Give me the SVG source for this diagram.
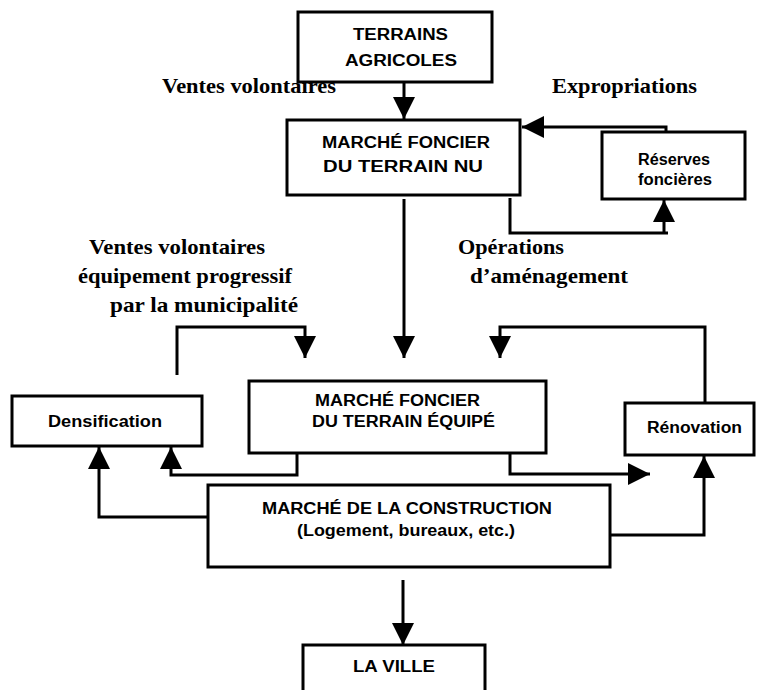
<svg xmlns="http://www.w3.org/2000/svg" width="760" height="690" viewBox="0 0 760 690">
<style>
.box{fill:#fff;stroke:#000;stroke-width:3}
.bt{font-family:"Liberation Sans",Arial,sans-serif;font-weight:bold;font-size:16px;fill:#000}
.lb{font-family:"Liberation Serif","Times New Roman",serif;font-weight:bold;font-size:21px;fill:#000}
.c{fill:none;stroke:#000;stroke-width:3}
</style>
<defs>
<marker id="ah" markerUnits="userSpaceOnUse" markerWidth="24" markerHeight="24" refX="22" refY="11" orient="auto">
<path d="M0,0 L22,11 L0,22 Z" fill="#000"/>
</marker>
</defs>
<rect width="760" height="690" fill="#fff"/>
<g id="connectors">
<path class="c" d="M404,82 L404,119" marker-end="url(#ah)"/>
<path class="c" d="M666,132 L666,127 L522,127" marker-end="url(#ah)"/>
<path class="c" d="M510,198 L510,233 L668,233"/>
<path class="c" d="M664,233 L664,200" marker-end="url(#ah)"/>
<path class="c" d="M404,199 L404,358" marker-end="url(#ah)"/>
<path class="c" d="M177,375 L177,327 L305,327 L305,358" marker-end="url(#ah)"/>
<path class="c" d="M705,403 L705,327 L500,327 L500,358" marker-end="url(#ah)"/>
<path class="c" d="M297,453 L297,475 L171,475 L171,447" marker-end="url(#ah)"/>
<path class="c" d="M208,517 L99,517 L99,447" marker-end="url(#ah)"/>
<path class="c" d="M510,453 L510,474 L650,474" marker-end="url(#ah)"/>
<path class="c" d="M610,535 L704,535 L704,456" marker-end="url(#ah)"/>
<path class="c" d="M403,580 L403,645" marker-end="url(#ah)"/>
</g>
<g id="labels">
<text class="lb" x="162" y="93" textLength="174" lengthAdjust="spacingAndGlyphs">Ventes volontaires</text>
<text class="lb" x="552" y="93" textLength="145" lengthAdjust="spacingAndGlyphs">Expropriations</text>
<text class="lb" x="89" y="254" textLength="176" lengthAdjust="spacingAndGlyphs">Ventes volontaires</text>
<text class="lb" x="78" y="283" textLength="214" lengthAdjust="spacingAndGlyphs">équipement progressif</text>
<text class="lb" x="110" y="312" textLength="188" lengthAdjust="spacingAndGlyphs">par la municipalité</text>
<text class="lb" x="458" y="254" textLength="106" lengthAdjust="spacingAndGlyphs">Opérations</text>
<text class="lb" x="470" y="283" textLength="158" lengthAdjust="spacingAndGlyphs">d’aménagement</text>
</g>
<g id="terrains-agricoles">
<rect class="box" x="298" y="12" width="194" height="70"/>
<text class="bt" x="353" y="40" textLength="95" lengthAdjust="spacingAndGlyphs">TERRAINS</text>
<text class="bt" x="345" y="66" textLength="112" lengthAdjust="spacingAndGlyphs">AGRICOLES</text>
</g>
<g id="marche-terrain-nu">
<rect class="box" x="287" y="120" width="233" height="75"/>
<text class="bt" x="322" y="148" textLength="168" lengthAdjust="spacingAndGlyphs">MARCHÉ FONCIER</text>
<text class="bt" x="323" y="172" textLength="160" lengthAdjust="spacingAndGlyphs">DU TERRAIN NU</text>
</g>
<g id="reserves-foncieres">
<rect class="box" x="602" y="132" width="143" height="67"/>
<text class="bt" x="638" y="165" textLength="72" lengthAdjust="spacingAndGlyphs">Réserves</text>
<text class="bt" x="638" y="185" textLength="74" lengthAdjust="spacingAndGlyphs">foncières</text>
</g>
<g id="densification">
<rect class="box" x="12" y="396" width="190" height="50"/>
<text class="bt" x="48" y="427" textLength="114" lengthAdjust="spacingAndGlyphs">Densification</text>
</g>
<g id="marche-terrain-equipe">
<rect class="box" x="249" y="381" width="297" height="72"/>
<text class="bt" x="315" y="406" textLength="165" lengthAdjust="spacingAndGlyphs">MARCHÉ FONCIER</text>
<text class="bt" x="312" y="427" textLength="183" lengthAdjust="spacingAndGlyphs">DU TERRAIN ÉQUIPÉ</text>
</g>
<g id="renovation">
<rect class="box" x="625" y="403" width="129" height="52"/>
<text class="bt" x="647" y="433" textLength="95" lengthAdjust="spacingAndGlyphs">Rénovation</text>
</g>
<g id="marche-construction">
<rect class="box" x="208" y="485" width="402" height="82"/>
<text class="bt" x="262" y="514" textLength="290" lengthAdjust="spacingAndGlyphs">MARCHÉ DE LA CONSTRUCTION</text>
<text class="bt" x="297" y="536" textLength="218" lengthAdjust="spacingAndGlyphs">(Logement, bureaux, etc.)</text>
</g>
<g id="la-ville">
<rect class="box" x="303" y="645" width="182" height="60"/>
<text class="bt" x="353" y="672" textLength="82" lengthAdjust="spacingAndGlyphs">LA VILLE</text>
</g>
</svg>
